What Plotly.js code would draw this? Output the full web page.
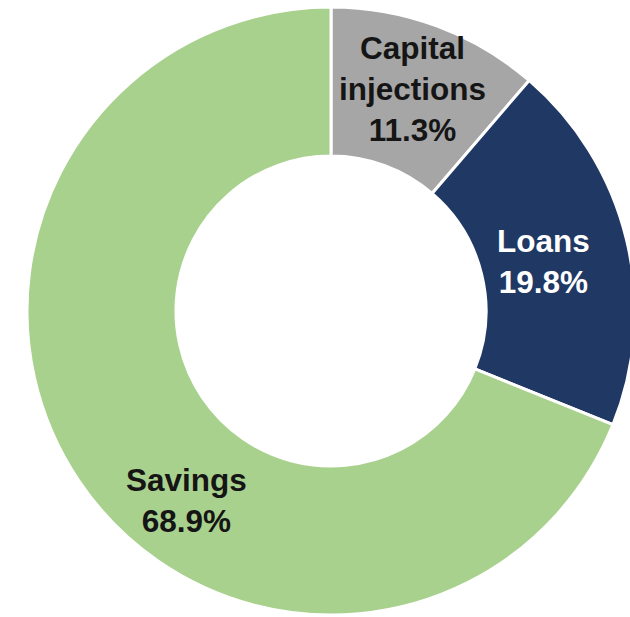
<!DOCTYPE html>
<html>
<head>
<meta charset="utf-8">
<script src="https://cdn.plot.ly/plotly-3.0.1.min.js"></script>
<style>
  html, body { margin: 0; padding: 0; background: #ffffff; overflow: hidden; width: 630px; height: 617px; }
  #chart { position: absolute; left: 0; top: 0; width: 662px; height: 622px; }
</style>
</head>
<body>
<div id="chart"></div>
<script>
// Data
var categories = ["Capital injections", "Loans", "Savings"];
var labelLines = ["Capital<br>injections", "Loans", "Savings"];
var shares = [11.3, 19.8, 68.9];
var colors = ["#A6A6A6", "#203864", "#A9D18E"];
var textColors = ["#151515", "#ffffff", "#151515"];

// Label placement (pixel positions in the plot div)
var W = 662, H = 622;
var labelPos = [[412, 89], [543, 261], [186, 500]];

var annotations = categories.map(function (c, i) {
  return {
    xref: "paper", yref: "paper",
    x: labelPos[i][0] / W,
    y: 1 - labelPos[i][1] / H,
    xanchor: "center", yanchor: "middle",
    showarrow: false,
    align: "center",
    text: "<b>" + labelLines[i] + "<br>" + shares[i].toFixed(1) + "%</b>",
    font: { family: "Liberation Sans, Arial, sans-serif", size: 31.5, color: textColors[i] }
  };
});

var trace = {
  type: "pie",
  labels: categories,
  values: shares,
  hole: 0.51,
  sort: false,
  direction: "clockwise",
  rotation: 0,
  textinfo: "none",
  hoverinfo: "label+percent",
  marker: { colors: colors, line: { color: "#ffffff", width: 3 } },
  domain: { x: [0, 1], y: [7 / H, 615 / H] },
  showlegend: false
};

var layout = {
  width: W, height: H,
  margin: { l: 0, r: 0, t: 0, b: 0 },
  paper_bgcolor: "#ffffff",
  showlegend: false,
  annotations: annotations
};

Plotly.newPlot("chart", [trace], layout, { displayModeBar: false, staticPlot: true });
</script>
</body>
</html>
